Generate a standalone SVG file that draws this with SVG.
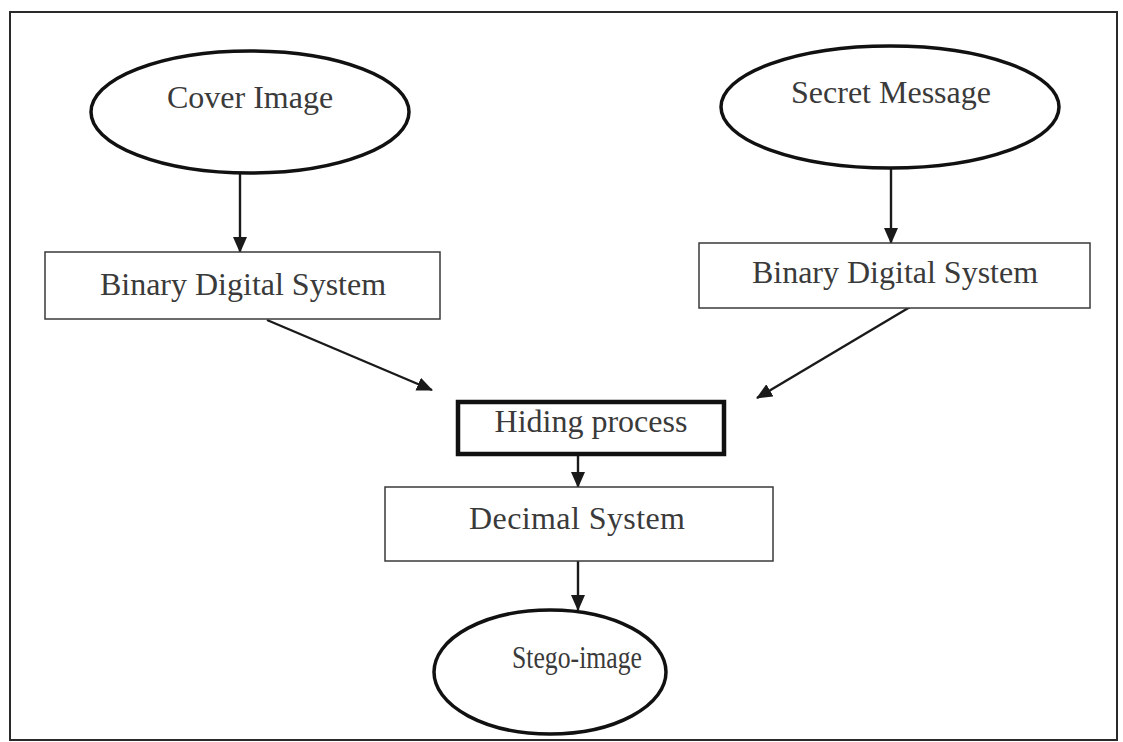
<svg xmlns="http://www.w3.org/2000/svg" width="1123" height="742" viewBox="0 0 1123 742">
<style>
.frame{fill:none;stroke:#2a2a2a;stroke-width:2}
.ell{fill:#fff;stroke:#111;stroke-width:3.5}
.box{fill:#fff;stroke:#3a3a3a;stroke-width:1.5}
.bold{fill:#fff;stroke:#111;stroke-width:4.5}
.lbl{font-family:"Liberation Serif","Times New Roman",serif;font-size:32px;fill:#3a3a3a;text-anchor:middle}
.conn{fill:none;stroke:#1a1a1a;stroke-width:2.4;marker-end:url(#ah)}
</style>
<defs>
<marker id="ah" markerUnits="userSpaceOnUse" markerWidth="16" markerHeight="14" refX="15" refY="7" orient="auto">
<path d="M0,0 L16,7 L0,14 z" fill="#1a1a1a"/>
</marker>
</defs>
<rect width="1123" height="742" fill="#fff"/>
<rect class="frame" x="10" y="12" width="1107" height="728"/>
<g id="connectors">
<line class="conn" x1="240" y1="174" x2="240" y2="252"/>
<line class="conn" x1="891" y1="169" x2="891" y2="243"/>
<line class="conn" x1="267" y1="320" x2="432" y2="390"/>
<line class="conn" x1="910" y1="307" x2="757" y2="398"/>
<line class="conn" x1="578" y1="456" x2="578" y2="487"/>
<line class="conn" x1="578" y1="561" x2="578" y2="610"/>
</g>
<g id="cover-image">
<ellipse class="ell" cx="250" cy="112" rx="159" ry="61"/>
<text class="lbl" x="250" y="108">Cover Image</text>
</g>
<g id="secret-message">
<ellipse class="ell" cx="890" cy="107" rx="169" ry="61"/>
<text class="lbl" x="891" y="103">Secret Message</text>
</g>
<g id="binary-1">
<rect class="box" x="45" y="252" width="395" height="67"/>
<text class="lbl" x="243" y="295">Binary Digital System</text>
</g>
<g id="binary-2">
<rect class="box" x="699" y="243" width="391" height="65"/>
<text class="lbl" x="895" y="283">Binary Digital System</text>
</g>
<g id="hiding-process">
<rect class="bold" x="458" y="402" width="266" height="52"/>
<text class="lbl" x="591" y="432">Hiding process</text>
</g>
<g id="decimal-system">
<rect class="box" x="385" y="487" width="388" height="74"/>
<text class="lbl" x="577" y="529" textLength="216">Decimal System</text>
</g>
<g id="stego-image">
<ellipse class="ell" cx="550" cy="672" rx="116" ry="62"/>
<text class="lbl" x="577" y="668" textLength="130" lengthAdjust="spacingAndGlyphs">Stego-image</text>
</g>
</svg>
